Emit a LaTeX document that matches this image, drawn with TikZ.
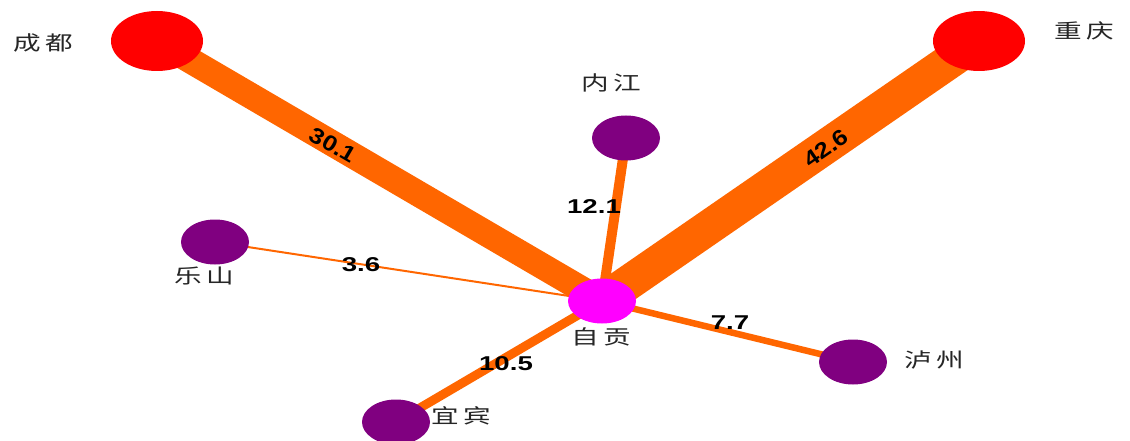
\documentclass[tikz,border=0pt]{standalone}
\usepackage{fontspec}
\usepackage{graphicx}
\setmainfont{Liberation Sans}
\newfontfamily\cjk{Noto Sans CJK SC}
\usetikzlibrary{shapes.geometric,backgrounds}
\definecolor{edgeor}{HTML}{FF6600}
\definecolor{nodepur}{HTML}{800080}
\definecolor{nodemag}{HTML}{FF00FF}
\newcommand\sxt[1]{\scalebox{1.38}[1]{#1}}
\newcommand\cnl[2]{\sxt{\cjk #1\hspace{3pt}#2}}
\newcommand\numl[1]{\sxt{\bfseries #1}}
\newcommand\numr[1]{\scalebox{1.15}[1]{\bfseries #1}}
\tikzset{
  bignode/.style={ellipse, inner sep=0pt, minimum width=92pt, minimum height=60pt, fill=red},
  smallnode/.style={ellipse, inner sep=0pt, minimum width=68pt, minimum height=45pt, fill=nodepur},
  hubnode/.style={ellipse, inner sep=0pt, minimum width=68pt, minimum height=45pt, fill=nodemag},
  cityname/.style={inner sep=0pt, text=black!85, font=\fontsize{20pt}{20pt}\selectfont},
  vallabel/.style={inner sep=0pt, text=black, font=\fontsize{20pt}{20pt}\selectfont},
  rotlabel/.style={inner sep=0pt, text=black, font=\fontsize{22pt}{22pt}\selectfont},
  link/.style={draw=edgeor, line cap=butt}
}
\begin{document}
\begin{tikzpicture}[x=1pt,y=-1pt]
\useasboundingbox (0,0) rectangle (1130,441);
% nodes
\node[bignode] (cd) at (157,41) {};
\node[bignode] (cq) at (979,41) {};
\node[hubnode] (zg) at (602,301) {};
\node[smallnode] (nj) at (626,138) {};
\node[smallnode] (ls) at (215,242) {};
\node[smallnode] (lz) at (853,362) {};
\node[smallnode] (yb) at (396,422) {};
% edges
\begin{scope}[on background layer]
\draw[link, line width=26pt] (cd.center) -- (zg.center);
\draw[link, line width=35pt] (cq.center) -- (zg.center);
\draw[link, line width=10pt] (nj.center) -- (zg.center);
\draw[link, line width=2pt] (ls.center) -- (zg.center);
\draw[link, line width=6.5pt] (lz.center) -- (zg.center);
\draw[link, line width=9pt] (yb.center) -- (zg.center);
\end{scope}
% city names
\node[cityname] (tcd) at (43,43) {\cnl{成}{都}};
\node[cityname] (tcq) at (1084,31) {\cnl{重}{庆}};
\node[cityname] (tnj) at (611,83) {\cnl{内}{江}};
\node[cityname] (tls) at (204,276) {\cnl{乐}{山}};
\node[cityname] (tzg) at (601,337) {\cnl{自}{贡}};
\node[cityname] (tyb) at (461,416) {\cnl{宜}{宾}};
\node[cityname] (tlz) at (934,360) {\cnl{泸}{州}};
% values
\node[rotlabel, rotate=-30.3] (v1) at (333,145) {\numr{30.1}};
\node[rotlabel, rotate=34.6] (v2) at (826,148) {\numr{42.6}};
\node[vallabel] (v3) at (594,207) {\numl{12.1}};
\node[vallabel] (v4) at (361,265) {\numl{3.6}};
\node[vallabel] (v5) at (730,323) {\numl{7.7}};
\node[vallabel] (v6) at (506,364) {\numl{10.5}};
\end{tikzpicture}
\end{document}
